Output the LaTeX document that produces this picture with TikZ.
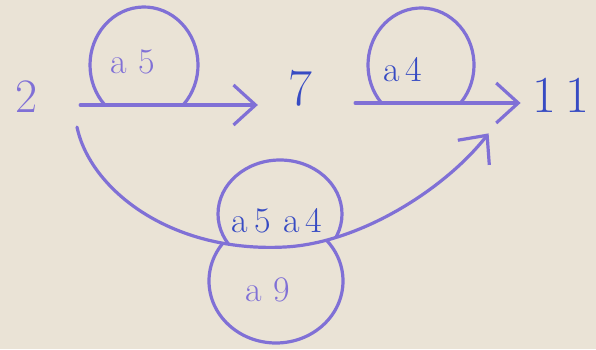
\documentclass[tikz,border=0pt]{standalone}
\usepackage{tikz}
\usetikzlibrary{arrows.meta}
\definecolor{paper}{RGB}{234,227,214}
\definecolor{ink}{RGB}{128,112,214}
\definecolor{pen}{RGB}{55,75,195}
\begin{document}
\begin{tikzpicture}[x=1pt, y=1pt,
  lbl/.style={inner sep=0pt, font=\fontsize{36}{38}\selectfont},
  num/.style={inner sep=0pt, font=\fontsize{52}{54}\selectfont, text=pen},
  arr/.style={-{Straight Barb[length=22pt, width=40pt]}, draw=ink, line width=3.2pt, line cap=round},
  loop/.style={draw=ink, line width=3.2pt}
]
\fill[paper] (0,0) rectangle (596,349);
\useasboundingbox (0,0) rectangle (596,349);
% states
\node[num, text=ink, font=\fontsize{48}{50}\selectfont] (n2) at (27,252) {2};
\node[num] (n7) at (300,261) {7};
\node[num] (n11) at (561,254) {1\,1};
% labels inside the loops
\node[lbl, text=ink] (la5) at (133,287) {a\,\,5};
\node[lbl, text=pen] (la4) at (403,279) {a\,4};
\node[lbl, text=pen] (la5a4) at (277,128) {a\,5\,\,a\,4};
\node[lbl, text=ink] (la9) at (268,59) {a\,\,9};
% transitions
\draw[arr, shorten <=42pt, shorten >=30pt] ([yshift=-8pt]n2.east) -- ([yshift=-8pt]n2.east -| n7.west);
\draw[arr, shorten <=43pt, shorten >=12pt] ([yshift=-15pt]n7.east) -- ([yshift=-15pt]n7.east -| n11.west);
\coordinate (c0) at ([shift={(50,-14)}]n2.south);
\coordinate (c1) at ([shift={(-44,-21)}]n11.south west);
\draw[arr] (c0) .. controls (90,160) and (170,96) .. (285,102)
  .. controls (360,106) and (445,160) .. (c1);
% loops
\draw[loop] (144,284) ++(-43.8:54 and 58) arc[start angle=-43.8, end angle=223.8, x radius=54, y radius=58];
\draw[loop] (421,284) ++(-41:53 and 57) arc[start angle=-41, end angle=221, x radius=53, y radius=57];
\begin{scope}
  \clip (0,349) -- (0,224) -- (c0) .. controls (90,160) and (170,96) .. (285,102)
    .. controls (360,106) and (445,160) .. (c1) -- (596,217) -- (596,349) -- cycle;
  \draw[loop] (280,135) ellipse[x radius=62, y radius=54];
\end{scope}
\begin{scope}
  \clip (0,0) -- (0,224) -- (c0) .. controls (90,160) and (170,96) .. (285,102)
    .. controls (360,106) and (445,160) .. (c1) -- (596,217) -- (596,0) -- cycle;
  \draw[loop] (276,68) ellipse[x radius=67, y radius=62];
\end{scope}
\end{tikzpicture}
\end{document}
